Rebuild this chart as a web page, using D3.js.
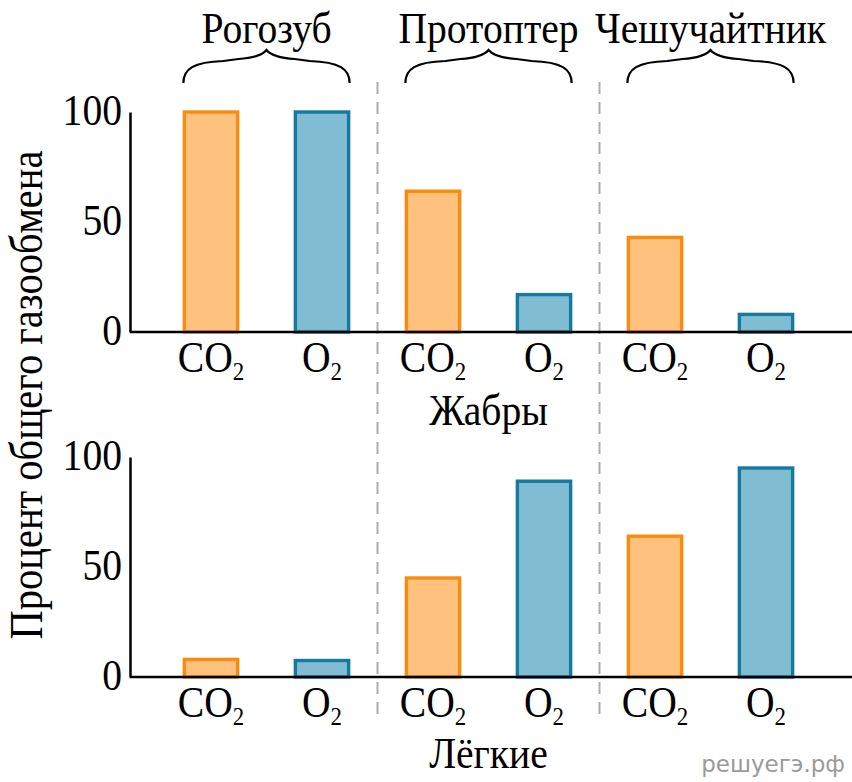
<!DOCTYPE html>
<html>
<head>
<meta charset="utf-8">
<script src="https://cdn.jsdelivr.net/npm/d3@7"></script>
<style>
  body { margin: 0; background: #fff; }
  svg { display: block; }
</style>
</head>
<body>
<div id="chart"></div>
<script>
// fish species (column groups) and gases (bars inside a group)
const fish = ["Рогозуб", "Протоптер", "Чешучайтник"];
const gases = ["CO", "O"];
const organs = ["Жабры", "Лёгкие"];

// percent of total gas exchange
const gillsCO2 = [100, 64, 43];
const gillsO2 = [100, 17, 8];
const lungsCO2 = [8, 45, 64];
const lungsO2 = [7.5, 89, 95];

const yTicks = [0, 50, 100];

const width = 852, height = 782;
const orange = "#fec27e", orangeStroke = "#f98c0f";
const blue = "#80bdd2", blueStroke = "#167a9f";
const serif = "'Liberation Serif', 'Times New Roman', Times, serif";
const sx = 0.88; // text in the picture is a bit narrow

const svg = d3.select("#chart").append("svg")
  .attr("width", width)
  .attr("height", height)
  .style("font-family", serif);

// one slot per bar: species x gas
const slots = [];
fish.forEach((f, i) => gases.forEach(g => slots.push(f + "|" + g)));

const x = d3.scalePoint()
  .domain(slots)
  .range([155.5, 821.5])
  .padding(0.5);
const barW = x.step() * 0.48;

// helper for narrow serif text
function label(g, px, py, str, size, anchor) {
  const t = g.append("text")
    .attr("transform", `translate(${px},${py}) scale(${sx},1)`)
    .attr("text-anchor", anchor || "middle")
    .style("font-family", serif)
    .style("font-size", size + "px")
    .style("fill", "#000");
  t.text(str);
  return t;
}

// two panels: gills on top, lungs below
const panels = [
  { name: organs[0], co2: gillsCO2, o2: gillsO2, top: 112, base: 332, nameY: 425 },
  { name: organs[1], co2: lungsCO2, o2: lungsO2, top: 457, base: 677, nameY: 768 }
];

// dashed separators between species
[1, 2].forEach(i => {
  const sepX = (x(fish[i - 1] + "|O") + x(fish[i] + "|CO")) / 2;
  svg.append("line")
    .attr("x1", sepX).attr("x2", sepX)
    .attr("y1", 82).attr("y2", 720)
    .attr("stroke", "#ababab")
    .attr("stroke-width", 2)
    .attr("stroke-dasharray", "12,8");
});

panels.forEach(p => {
  const y = d3.scaleLinear().domain([0, 100]).range([p.base, p.top]);
  const g = svg.append("g");

  const rows = [];
  fish.forEach((f, i) => {
    rows.push({ key: f + "|CO", v: p.co2[i], fill: orange, stroke: orangeStroke });
    rows.push({ key: f + "|O", v: p.o2[i], fill: blue, stroke: blueStroke });
  });

  g.selectAll("rect")
    .data(rows)
    .join("rect")
    .attr("x", d => x(d.key) - barW / 2)
    .attr("y", d => y(d.v))
    .attr("width", barW)
    .attr("height", d => y(0) - y(d.v))
    .attr("fill", d => d.fill)
    .attr("stroke", d => d.stroke)
    .attr("stroke-width", 3.4);

  // y axis: only the spine and the numbers
  const axis = d3.axisLeft(y).tickValues(yTicks).tickSize(0).tickPadding(8).tickFormat(d3.format("d"));
  const ag = g.append("g").attr("transform", "translate(130,0)").call(axis);
  ag.attr("font-family", serif);
  ag.select(".domain").attr("stroke", "#000").attr("stroke-width", 2.5);
  ag.selectAll(".tick text")
    .style("font-family", serif)
    .style("font-size", "45px")
    .attr("dy", "0.27em")
    .attr("transform", `scale(${sx},1)`)
    .attr("x", -8 / sx);

  // baseline
  g.append("line")
    .attr("x1", 130).attr("x2", width)
    .attr("y1", y(0)).attr("y2", y(0))
    .attr("stroke", "#000").attr("stroke-width", 2.5);

  // category labels with subscript 2
  slots.forEach(k => {
    const t = label(g, x(k), p.base + 40, "", 45);
    t.append("tspan").text(k.split("|")[1]);
    t.append("tspan").text("2").style("font-size", "26px").attr("dy", 8);
  });

  label(g, x(fish[1] + "|CO") + (x(fish[1] + "|O") - x(fish[1] + "|CO")) / 2, p.nameY, p.name, 45);
});

// species titles with curly braces
fish.forEach(f => {
  const x0 = x(f + "|CO") - barW / 2 - 1, x1 = x(f + "|O") + barW / 2 + 1;
  const xc = (x0 + x1) / 2;
  const path = `M${x0},83 C${x0},69 ${x0 + 10},62 ${x0 + 40},61 L${xc - 28},59 C${xc - 12},58 ${xc - 4},55 ${xc},50 ` +
    `C${xc + 4},55 ${xc + 12},58 ${xc + 28},59 L${x1 - 40},61 C${x1 - 10},62 ${x1},69 ${x1},83`;
  svg.append("path")
    .attr("d", path)
    .attr("fill", "none")
    .attr("stroke", "#000")
    .attr("stroke-width", 2.2);
  label(svg, xc, 43, f, 45);
});

// y axis title
svg.append("text")
  .attr("transform", `translate(42,395) rotate(-90) scale(${sx},1)`)
  .attr("text-anchor", "middle")
  .style("font-family", serif)
  .style("font-size", "46px")
  .text("Процент общего газообмена");

// watermark
svg.append("text")
  .attr("x", 845).attr("y", 772)
  .attr("text-anchor", "end")
  .style("font-family", "'DejaVu Sans', sans-serif")
  .style("font-size", "23px")
  .style("fill", "#9a9a9a")
  .text("решуегэ.рф");
</script>
</body>
</html>
